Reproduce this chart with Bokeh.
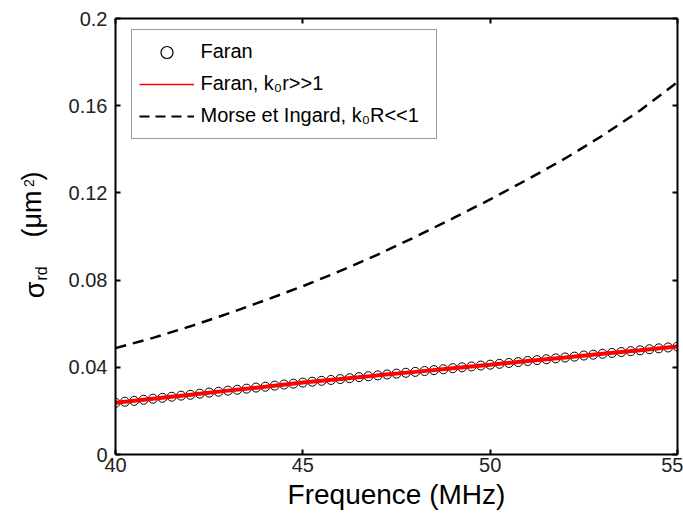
from bokeh.plotting import figure
from bokeh.models import Range1d, FixedTicker, LinearAxis, Legend, LegendItem, ColumnDataSource
from bokeh.layouts import row
from bokeh.core.properties import value
from bokeh.embed import file_html
from bokeh.resources import INLINE
from math import pi

# ---- data ----
freq_faran = [40.0, 40.25, 40.5, 40.75, 41.0, 41.25, 41.5, 41.75, 42.0, 42.25, 42.5, 42.75,
              43.0, 43.25, 43.5, 43.75, 44.0, 44.25, 44.5, 44.75, 45.0, 45.25, 45.5, 45.75,
              46.0, 46.25, 46.5, 46.75, 47.0, 47.25, 47.5, 47.75, 48.0, 48.25, 48.5, 48.75,
              49.0, 49.25, 49.5, 49.75, 50.0, 50.25, 50.5, 50.75, 51.0, 51.25, 51.5, 51.75,
              52.0, 52.25, 52.5, 52.75, 53.0, 53.25, 53.5, 53.75, 54.0, 54.25, 54.5, 54.75, 55.0]
sigma_faran = [0.0237, 0.0242, 0.0246, 0.0251, 0.0256, 0.0260, 0.0265, 0.0270, 0.0274, 0.0279,
               0.0284, 0.0288, 0.0293, 0.0297, 0.0302, 0.0307, 0.0311, 0.0316, 0.0321, 0.0325,
               0.0330, 0.0334, 0.0338, 0.0342, 0.0346, 0.0350, 0.0355, 0.0359, 0.0363, 0.0367,
               0.0371, 0.0375, 0.0379, 0.0383, 0.0387, 0.0391, 0.0396, 0.0400, 0.0404, 0.0408,
               0.0412, 0.0416, 0.0420, 0.0424, 0.0429, 0.0433, 0.0437, 0.0441, 0.0445, 0.0449,
               0.0454, 0.0458, 0.0462, 0.0466, 0.0470, 0.0474, 0.0478, 0.0483, 0.0487, 0.0491, 0.0495]

freq_lines = [40, 41, 42, 43, 44, 45, 46, 47, 48, 49, 50, 51, 52, 53, 54, 55]
sigma_faran_hf = [0.0237, 0.0256, 0.0274, 0.0293, 0.0311, 0.0330, 0.0346, 0.0363,
                  0.0379, 0.0396, 0.0412, 0.0429, 0.0445, 0.0462, 0.0478, 0.0495]
sigma_morse = [0.0488, 0.0535, 0.0588, 0.0646, 0.0708, 0.0772, 0.0842, 0.0917,
               0.0998, 0.1083, 0.1170, 0.1262, 0.1358, 0.1463, 0.1578, 0.1708]

x_ticks = [40, 45, 50, 55]
y_ticks = [0, 0.04, 0.08, 0.12, 0.16, 0.2]
y_tick_labels = {0: "0", 0.04: "0.04", 0.08: "0.08", 0.12: "0.12", 0.16: "0.16", 0.2: "0.2"}

legend_labels = ["Faran", "Faran, k\u2080r>>1", "Morse et Ingard, k\u2080R<<1"]
x_label = "Frequence (MHz)"
# y-axis title pieces: sigma, subscript rd, (um, superscript 2, )
ylabel_parts = ["\u03c3", "rd", "(\u03bcm", "2", ")"]

FONT = "Liberation Sans"
W_LAB = 60       # width of the strip holding the rotated y title
H = 517
TOP, BOTTOM = 18, 63   # borders shared by both figures so their frames line up

# ---- strip with the rotated y-axis title (coordinates = pixels, y counted from top) ----
pl = figure(width=W_LAB, height=H, output_backend="svg", toolbar_location=None, title=None,
            x_range=Range1d(0, W_LAB), y_range=Range1d(BOTTOM, H - TOP),
            x_axis_location=None, y_axis_location=None,
            min_border_left=0, min_border_right=0, min_border_top=TOP,
            min_border_bottom=BOTTOM)
pl.outline_line_color = None
pl.grid.visible = False
pl.background_fill_color = "white"
pl.border_fill_color = "white"
lab_src = ColumnDataSource(data=dict(
    x=[34.5, 41.0, 31.8, 28.5, 31.8],
    y=[H - 289.5, H - 273.0, H - 213.5, H - 182.5, H - 175.5],
    t=ylabel_parts,
    fs=["27px", "16px", "27px", "14px", "27px"],
))
pl.text("x", "y", text="t", source=lab_src, angle=pi / 2, text_align="center",
        text_baseline="middle", text_font=value(FONT), text_font_size="fs",
        text_color="black")

# ---- main plot ----
p = figure(width=683 - W_LAB, height=H, output_backend="svg", toolbar_location=None,
           x_range=Range1d(40, 55), y_range=Range1d(0, 0.2),
           min_border_left=115 - W_LAB, min_border_right=6, min_border_top=TOP,
           min_border_bottom=BOTTOM)
p.background_fill_color = "white"
p.border_fill_color = "white"
p.outline_line_color = None
p.grid.visible = False

def style_axis(ax, labels=True):
    ax.axis_line_color = "black"
    ax.axis_line_width = 2
    ax.major_tick_line_color = "black"
    ax.major_tick_line_width = 2
    ax.major_tick_in = 5
    ax.major_tick_out = 0
    ax.minor_tick_line_color = None
    ax.major_label_text_font = FONT
    ax.major_label_text_font_size = "20px"
    ax.major_label_text_color = "#222222"
    if not labels:
        ax.major_label_text_font_size = "1px"
        ax.major_label_text_color = None
        ax.major_label_standoff = 0

p.xaxis.ticker = FixedTicker(ticks=x_ticks)
p.yaxis.ticker = FixedTicker(ticks=y_ticks)
p.yaxis.major_label_overrides = y_tick_labels
style_axis(p.xaxis[0])
style_axis(p.yaxis[0])
p.yaxis.major_label_standoff = 8
p.xaxis.major_label_standoff = 3
p.xaxis.axis_label = x_label
p.xaxis.axis_label_text_font = FONT
p.xaxis.axis_label_text_font_size = "28px"
p.xaxis.axis_label_text_font_style = "normal"
p.xaxis.axis_label_text_color = "black"
p.xaxis.axis_label_standoff = 4

top = LinearAxis(ticker=FixedTicker(ticks=x_ticks))
right = LinearAxis(ticker=FixedTicker(ticks=y_ticks))
style_axis(top, labels=False)
style_axis(right, labels=False)
p.add_layout(top, "above")
p.add_layout(right, "right")

src_f = ColumnDataSource(data=dict(x=freq_faran, y=sigma_faran))
src_l = ColumnDataSource(data=dict(x=freq_lines, hf=sigma_faran_hf, m=sigma_morse))

p.line("x", "m", source=src_l, line_color="black", line_width=2.5, line_dash="11 7")
p.scatter("x", "y", source=src_f, marker="circle", size=9, line_color="black",
          line_width=1, fill_color=None)
p.line("x", "hf", source=src_l, line_color="#ff0000", line_width=4)

# hidden legend-only renderers so legend glyphs match the reference's look
lg1 = p.scatter("x", "y", source=src_f, marker="circle", size=7, line_color="black",
                line_width=1.2, fill_color=None, visible=False)
lg2 = p.line("x", "hf", source=src_l, line_color="#ff0000", line_width=1.5, visible=False)
lg3 = p.line("x", "m", source=src_l, line_color="black", line_width=2, line_dash="10 6",
             visible=False)

legend = Legend(items=[LegendItem(label=legend_labels[0], renderers=[lg1]),
                       LegendItem(label=legend_labels[1], renderers=[lg2]),
                       LegendItem(label=legend_labels[2], renderers=[lg3])],
                location=(15.5, 436 - 12.7 - 108))
legend.click_policy = "none"
legend.inactive_fill_alpha = 0
legend.padding = 7
legend.spacing = 2
legend.label_height = 30
legend.glyph_height = 30
legend.glyph_width = 55
legend.label_standoff = 7
legend.label_width = 228
legend.label_text_font = FONT
legend.label_text_font_size = "20px"
legend.label_text_color = "black"
legend.border_line_color = "#333333"
legend.border_line_width = 1
legend.background_fill_color = "white"
legend.background_fill_alpha = 1
p.add_layout(legend, "center")

layout = row(pl, p)
open("out.html", "w").write(file_html(layout, INLINE))
